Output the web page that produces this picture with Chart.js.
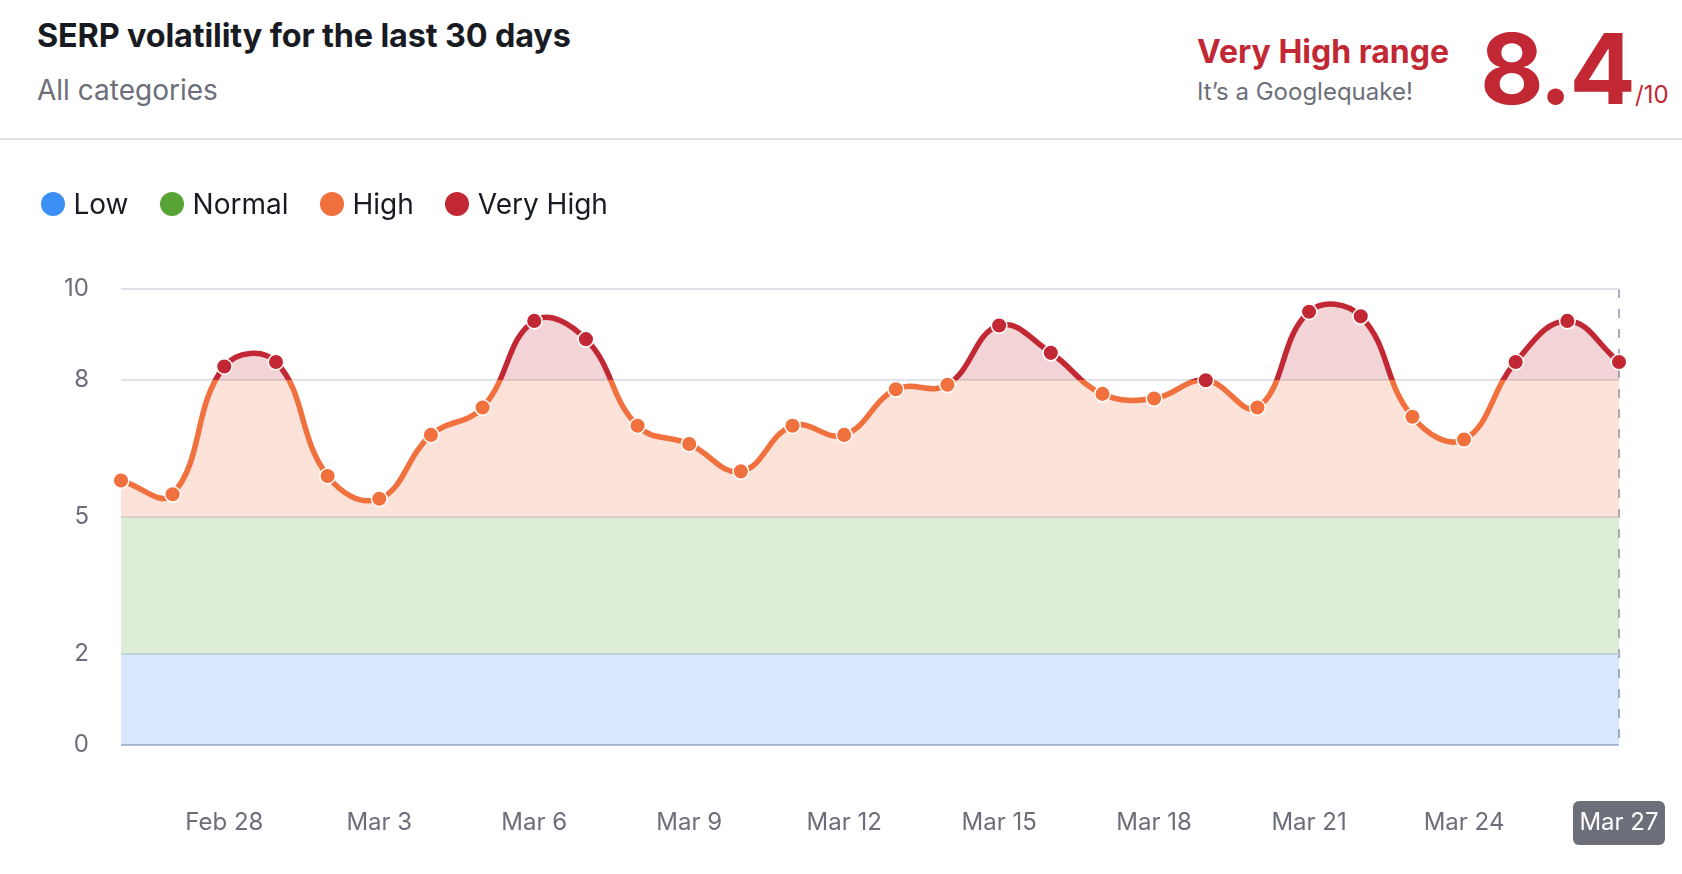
<!DOCTYPE html>
<html>
<head>
<meta charset="utf-8">
<title>SERP volatility</title>
<script src="https://cdn.jsdelivr.net/npm/chart.js"></script>
<style>
  html, body { margin: 0; padding: 0; background: #fff; width: 1682px; height: 874px; overflow: hidden; font-family: Inter, sans-serif; }
  .abs { position: absolute; white-space: nowrap; line-height: 1; }
  #title { left: 37px; top: 20px; font-size: 32.4px; font-weight: 700; letter-spacing: -0.15px; color: #191b23; }
  #sub { left: 37px; top: 76px; font-size: 28px; color: #6c6e79; }
  #rule { position: absolute; left: 0; top: 138px; width: 1682px; height: 2px; background: #e0e1e9; }
  #range { left: 1197px; top: 36px; font-size: 32px; font-weight: 700; color: #c22834; }
  #quake { left: 1197px; top: 80px; font-size: 24px; color: #6c6e79; }
  #score { left: 1480px; top: 20px; font-size: 98px; font-weight: 700; letter-spacing: -2.5px; color: #c22834; }
  #outof { left: 1635px; top: 83px; font-size: 24px; color: #c22834; }
  #legend { position: absolute; left: 41px; top: 189px; display: flex; font-size: 28px; color: #191b23; line-height: 30px; }
  #legend span.item { display: flex; align-items: center; margin-right: 31.5px; }
  #legend i { display: block; width: 24px; height: 24px; border-radius: 50%; margin-right: 8.5px; }
  #wrap { position: absolute; left: 0; top: 0; width: 1682px; height: 874px; }
</style>
</head>
<body>
<div class="abs" id="title">SERP volatility for the last 30 days</div>
<div class="abs" id="sub">All categories</div>
<div class="abs" id="range">Very High range</div>
<div class="abs" id="quake">It’s a Googlequake!</div>
<div class="abs" id="score">8.4</div>
<div class="abs" id="outof">/10</div>
<div id="rule"></div>
<div id="wrap"><canvas id="cnv"></canvas></div>
<div id="legend"></div>
<script>
const dates = ['Feb 26','Feb 27','Feb 28','Mar 1','Mar 2','Mar 3','Mar 4','Mar 5','Mar 6','Mar 7',
  'Mar 8','Mar 9','Mar 10','Mar 11','Mar 12','Mar 13','Mar 14','Mar 15','Mar 16','Mar 17',
  'Mar 18','Mar 19','Mar 20','Mar 21','Mar 22','Mar 23','Mar 24','Mar 25','Mar 26','Mar 27']
const volatility = [5.8,5.5,8.3,8.4,5.9,5.4,6.8,7.4,9.3,8.9,
  7.0,6.6,6.0,7.0,6.8,7.8,7.9,9.2,8.6,7.7,
  7.6,8.0,7.4,9.5,9.4,7.2,6.7,8.4,9.3,8.4]
const shownDates = ['Feb 28','Mar 3','Mar 6','Mar 9','Mar 12','Mar 15','Mar 18','Mar 21','Mar 24','Mar 27']
const yTicks = [0,2,5,8,10]
const bandNames = ['Low','Normal','High','Very High']
const bandTops = [2,5,8,10]
const bandColors = ['#3b8ff5','#59a337','#f0703e','#c22834']
const bandFills = ['rgba(59,143,245,.2)','rgba(89,163,55,.2)','rgba(240,112,62,.2)','rgba(194,40,52,.2)']

// legend
bandNames.forEach((n, i) => {
  let item = document.createElement('span')
  item.className = 'item'
  item.innerHTML = '<i style="background:' + bandColors[i] + '"></i>' + n
  document.getElementById('legend').appendChild(item)
})

function bandGradient(chart, colors) {
  let area = chart.chartArea
  if (!area) return colors[2]
  let y = chart.scales.y
  let g = chart.ctx.createLinearGradient(0, y.getPixelForValue(0), 0, y.getPixelForValue(10))
  let from = 0
  bandTops.forEach((top, i) => {
    g.addColorStop(from / 10, colors[i])
    g.addColorStop(top / 10, colors[i])
    from = top
  })
  return g
}

// grey chip behind the latest date, text itself is the axis tick
const chipPlugin = {
  id: 'chip',
  beforeDraw(chart) {
    let x = chart.scales.x
    let px = x.getPixelForTick(dates.length - 1)
    let c = chart.ctx
    c.save()
    c.fillStyle = '#6c6e79'
    c.beginPath()
    c.roundRect(px - 46, chart.chartArea.bottom + 56, 92, 44, 6)
    c.fill()
    c.restore()
  }
}

new Chart(document.getElementById('cnv'), {
  type: 'line',
  plugins: [chipPlugin],
  data: {
    labels: dates,
    datasets: [{
      data: volatility,
      clip: false,
      fill: 'origin',
      tension: 0.42,
      borderWidth: 5.5,
      borderColor: ctx => bandGradient(ctx.chart, bandColors),
      backgroundColor: ctx => bandGradient(ctx.chart, bandFills),
      pointRadius: 7.8,
      pointBorderWidth: 1.5,
      pointBorderColor: '#fff',
      pointBackgroundColor: ctx => ctx.raw >= 8 ? bandColors[3] : bandColors[2]
    }]
  },
  options: {
    responsive: true,
    maintainAspectRatio: false,
    animation: false,
    events: [],
    layout: { padding: { top: 289, right: 63, left: 0, bottom: 0 } },
    plugins: { legend: { display: false }, tooltip: { enabled: false } },
    scales: {
      x: {
        // tick padding would otherwise eat into the plot width
        afterFit(s) { s.height = 129; s.paddingRight = 0; s.paddingLeft = 0 },
        border: { display: false, dash: [9, 11] },
        grid: {
          lineWidth: 2,
          drawTicks: false,
          color: ctx => ctx.index === dates.length - 1 ? '#a9adbf' : 'transparent'
        },
        ticks: {
          autoSkip: false,
          maxRotation: 0,
          padding: 63,
          font: { family: 'Inter', size: 24 },
          color: ctx => ctx.index === dates.length - 1 ? '#fff' : '#6c6e79',
          callback(v) {
            let d = dates[v]
            return shownDates.includes(d) ? d : ''
          }
        }
      },
      y: {
        min: 0,
        max: 10,
        afterFit(s) { s.width = 121 },
        afterBuildTicks(s) { s.ticks = yTicks.map(v => ({ value: v })) },
        border: { display: false },
        grid: {
          lineWidth: 2,
          drawTicks: false,
          color: ctx => ctx.tick.value === 0 ? '#b9bfd2' : '#e0e1e9'
        },
        ticks: {
          padding: 32,
          font: { family: 'Inter', size: 24 },
          color: '#6c6e79'
        }
      }
    }
  }
})
</script>
</body>
</html>
